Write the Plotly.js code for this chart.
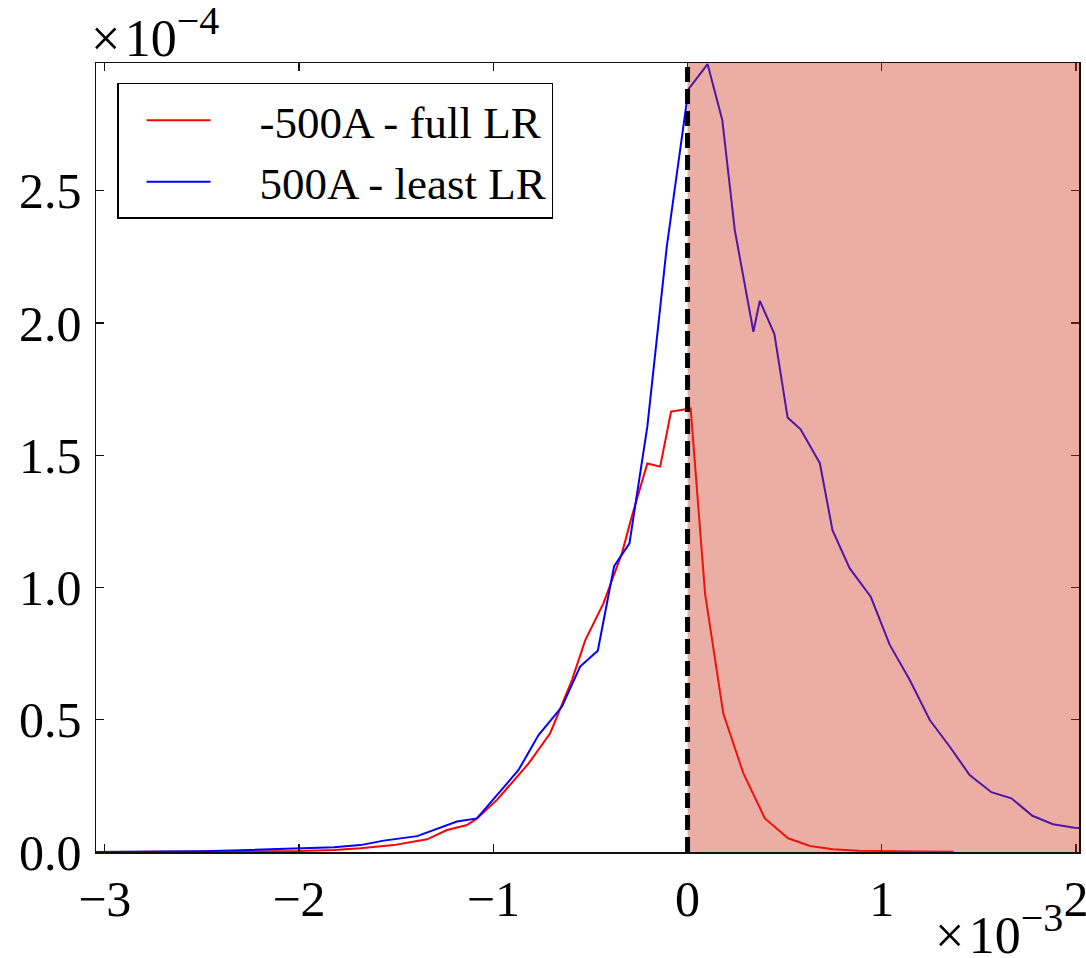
<!DOCTYPE html>
<html>
<head>
<meta charset="utf-8">
<script src="https://cdn.plot.ly/plotly-3.0.1.min.js"></script>
<style>html,body{margin:0;padding:0;background:#fff;}#chart{width:1086px;height:958px;}</style>
</head>
<body>
<div id="chart"></div>
<script>
// x values in units of 1e-3, y values in units of 1e-4 (as labelled on the axes)
const seriesNames = ["-500A - full LR", "500A - least LR"];

const redX = [-3.05, -2.5, -2.0, -1.82, -1.684, -1.513, -1.341, -1.238, -1.135, -1.084, -0.981, -0.818, -0.707, -0.595, -0.527, -0.433, -0.338, -0.287, -0.207, -0.141, -0.085, 0.016, 0.09, 0.184, 0.287, 0.398, 0.518, 0.63, 0.748, 0.88, 1.0, 1.2, 1.37];
const redY = [0.0, 0.001, 0.004, 0.008, 0.014, 0.026, 0.048, 0.083, 0.102, 0.127, 0.197, 0.335, 0.449, 0.65, 0.8, 0.94, 1.129, 1.268, 1.469, 1.457, 1.665, 1.677, 0.978, 0.524, 0.298, 0.127, 0.052, 0.023, 0.01, 0.005, 0.003, 0.002, 0.001];

const blueX = [-3.05, -2.75, -2.5, -2.25, -1.99, -1.82, -1.684, -1.564, -1.392, -1.187, -1.084, -0.87, -0.767, -0.647, -0.553, -0.462, -0.378, -0.299, -0.207, -0.107, 0.005, 0.103, 0.179, 0.243, 0.339, 0.372, 0.447, 0.515, 0.582, 0.681, 0.746, 0.835, 0.943, 1.041, 1.144, 1.247, 1.35, 1.452, 1.564, 1.667, 1.775, 1.881, 1.992, 2.05];
const blueY = [0.0, 0.001, 0.003, 0.008, 0.013, 0.018, 0.026, 0.043, 0.06, 0.115, 0.127, 0.31, 0.442, 0.549, 0.701, 0.761, 1.081, 1.167, 1.608, 2.288, 2.884, 2.979, 2.767, 2.352, 1.967, 2.084, 1.958, 1.643, 1.598, 1.47, 1.217, 1.072, 0.965, 0.783, 0.65, 0.499, 0.398, 0.291, 0.226, 0.203, 0.137, 0.105, 0.092, 0.088];

const xTicks = [-3, -2, -1, 0, 1, 2];
const yTicks = [0.0, 0.5, 1.0, 1.5, 2.0, 2.5];
const xRange = [-3.045, 2.015];
const yRange = [0, 2.983];
const shadeStart = 0;     // shaded region starts at x = 0 and runs to the right edge
const markerLineX = 0;    // dashed vertical line
const xExponent = "×\u200A10<sup><span style=\"font-size:40px\">−3</span></sup>";
const yExponent = "×\u200A10<sup><span style=\"font-size:40px\">−4</span></sup>";

const serif = 'Liberation Serif';
const colors = ['#ff0000', '#0000ff'];

const traces = [
  {x: redX, y: redY, name: seriesNames[0], type: 'scatter', mode: 'lines',
   line: {color: colors[0], width: 2}, showlegend: false},
  {x: blueX, y: blueY, name: seriesNames[1], type: 'scatter', mode: 'lines',
   line: {color: colors[1], width: 2}, showlegend: false},
  // legend entries (matplotlib-style short line sample with a gap before the label)
  {x: [null], y: [null], name: seriesNames[0], type: 'scatter', mode: 'lines',
   line: {color: colors[0], width: 2, dash: '0px,23px,64px,400px'}, showlegend: true},
  {x: [null], y: [null], name: seriesNames[1], type: 'scatter', mode: 'lines',
   line: {color: colors[1], width: 2, dash: '0px,23px,64px,400px'}, showlegend: true}
];

const axisCommon = {
  showgrid: false, zeroline: false, showline: true, mirror: 'ticks',
  linecolor: '#111', linewidth: 1.5, ticks: 'inside', ticklen: 8,
  tickwidth: 1.2, tickcolor: '#111', ticklabeloverflow: 'allow',
  tickfont: {family: serif, size: 50, color: '#000'}
};

const layout = {
  width: 1086, height: 958,
  margin: {l: 96, r: 7, t: 63, b: 106, pad: 0},
  paper_bgcolor: '#fff', plot_bgcolor: '#fff',
  font: {family: serif, color: '#000'},
  showlegend: true,
  xaxis: Object.assign({}, axisCommon, {range: xRange, tickvals: xTicks, ticklabelstandoff: 2}),
  yaxis: Object.assign({}, axisCommon, {range: yRange, tickvals: yTicks, tickformat: '.1f', ticklabelstandoff: 3}),
  legend: {x: 0.0214, y: 0.9747, xanchor: 'left', yanchor: 'top',
    bgcolor: '#fff', bordercolor: '#000', borderwidth: 1.5,
    font: {family: serif, size: 45, color: '#000'}, itemwidth: 131, tracegroupgap: 0},
  shapes: [
    {type: 'rect', layer: 'above', xref: 'x', yref: 'paper', x0: shadeStart, x1: xRange[1], y0: 0, y1: 1,
     fillcolor: 'rgb(205,52,27)', opacity: 0.4, line: {width: 0}},
    {type: 'line', layer: 'above', xref: 'x', yref: 'paper', x0: markerLineX, x1: markerLineX, y0: 0, y1: 1,
     line: {color: '#000', width: 5, dash: '15px,7px'}}
  ],
  annotations: [
    {text: yExponent, xref: 'paper', yref: 'paper', x: -0.0071, y: 0.992, xanchor: 'left', yanchor: 'bottom',
     showarrow: false, font: {family: serif, size: 52, color: '#000'}},
    {text: xExponent, xref: 'paper', yref: 'paper', x: 0.9858, y: -0.1445, xanchor: 'right', yanchor: 'bottom',
     showarrow: false, font: {family: serif, size: 52, color: '#000'}}
  ]
};

Plotly.newPlot('chart', traces, layout, {displayModeBar: false, staticPlot: true});
</script>
</body>
</html>
